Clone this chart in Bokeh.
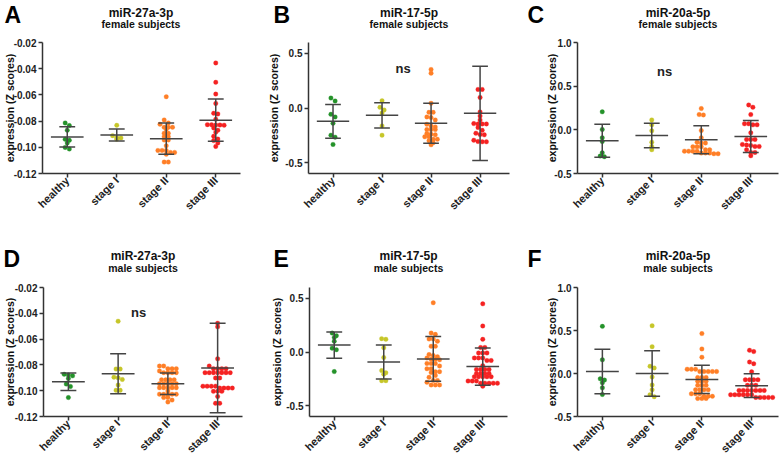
import math
from bokeh.plotting import figure
from bokeh.models import ColumnDataSource, FixedTicker, PrintfTickFormatter, Label, Range1d
from bokeh.layouts import row, column
from bokeh.embed import file_html
from bokeh.resources import INLINE

# ---------------- data ----------------
categories = ["healthy", "stage I", "stage II", "stage III"]
cat_positions = [0.5, 1.5, 2.5, 3.5]
group_colors = ["#24922a", "#c6c629", "#ff7f27", "#f52222"]

# A: miR-27a-3p, female subjects
a_healthy = [-0.0814, -0.0834, -0.0870, -0.0939, -0.0947, -0.0967, -0.1001, -0.1013]
a_stage1 = [-0.0832, -0.0911, -0.0926, -0.0929, -0.0939]
a_stage2 = [-0.0614, -0.0791, -0.0814, -0.0824, -0.0847, -0.0847, -0.0847, -0.0862,
            -0.0893, -0.0893, -0.0919, -0.0919, -0.0944, -0.0944, -0.0988, -0.1024,
            -0.1024, -0.1024, -0.1039, -0.1039, -0.1054, -0.1113, -0.1113]
a_stage3 = [-0.0356, -0.0504, -0.0594, -0.0665, -0.0740, -0.0745, -0.0786, -0.0827,
            -0.0828, -0.0829, -0.0830, -0.0831, -0.0852, -0.0870, -0.0885, -0.0916,
            -0.0937, -0.0949, -0.0967, -0.0993]
a_mean = [-0.0921, -0.0906, -0.0934, -0.0793]
a_sd = [0.0077, 0.0045, 0.0120, 0.0161]
a_yticks = [-0.12, -0.10, -0.08, -0.06, -0.04, -0.02]

# B: miR-17-5p, female subjects
b_healthy = [0.091, 0.064, -0.058, -0.082, -0.140, -0.249, -0.267, -0.334]
b_stage1 = [0.067, 0.006, -0.018, -0.046, -0.164, -0.249]
b_stage2 = [0.353, 0.319, 0.043, -0.040, -0.040, -0.082, -0.088, -0.109, -0.149, -0.164,
            -0.173, -0.198, -0.198, -0.198, -0.234, -0.240, -0.246, -0.264, -0.264,
            -0.286, -0.286, -0.301, -0.319, -0.337]
b_stage3 = [0.170, 0.170, 0.097, -0.036, -0.073, -0.109, -0.143, -0.146, -0.146, -0.146,
            -0.179, -0.204, -0.231, -0.243, -0.246, -0.295, -0.307, -0.310, -0.310]
b_mean = [-0.122, -0.067, -0.140, -0.049]
b_sd = [0.155, 0.116, 0.184, 0.432]
b_yticks = [-0.5, 0.0, 0.5]

# C: miR-20a-5p, female subjects
c_healthy = [0.206, 0.004, -0.091, -0.133, -0.263, -0.301, -0.308]
c_stage1 = [0.114, 0.057, -0.011, -0.141, -0.190, -0.228]
c_stage2 = [0.244, 0.175, 0.171, -0.008, -0.091, -0.141, -0.152, -0.152, -0.194, -0.194,
            -0.194, -0.228, -0.228, -0.244, -0.244, -0.244, -0.244, -0.266, -0.266,
            -0.266, -0.274, -0.274]
c_stage3 = [0.285, 0.259, 0.175, 0.069, 0.069, 0.057, 0.057, -0.034, -0.110, -0.110,
            -0.110, -0.167, -0.175, -0.179, -0.190, -0.190, -0.228, -0.259, -0.259, -0.297]
c_mean = [-0.126, -0.065, -0.114, -0.076]
c_sd = [0.189, 0.141, 0.160, 0.183]
c_yticks = [-0.5, 0.0, 0.5, 1.0]

# D: miR-27a-3p, male subjects
d_healthy = [-0.0873, -0.0878, -0.0885, -0.0906, -0.0949, -0.0967, -0.1053]
d_stage1 = [-0.0461, -0.0832, -0.0832, -0.0895, -0.0900, -0.0913, -0.0956, -0.0997, -0.0997]
d_stage2 = [-0.0809, -0.0809, -0.0829, -0.0829, -0.0829, -0.0847, -0.0860, -0.0860,
            -0.0860, -0.0860, -0.0916, -0.0916, -0.0916, -0.0916, -0.0946, -0.0946,
            -0.0946, -0.0946, -0.0946, -0.0977, -0.0977, -0.0977, -0.0977, -0.0977,
            -0.1002, -0.1027, -0.1027, -0.1027, -0.1027, -0.1027, -0.1053, -0.1053,
            -0.1073, -0.1088]
d_stage3 = [-0.0477, -0.0505, -0.0753, -0.0809, -0.0829, -0.0829, -0.0829, -0.0829,
            -0.0860, -0.0860, -0.0860, -0.0860, -0.0860, -0.0860, -0.0860, -0.0901,
            -0.0901, -0.0965, -0.0965, -0.0965, -0.0965, -0.0980, -0.0980, -0.0980,
            -0.0980, -0.1005, -0.1005, -0.1005, -0.1045, -0.1098, -0.1098]
d_mean = [-0.0931, -0.0868, -0.0946, -0.0824]
d_sd = [0.0068, 0.0155, 0.0084, 0.0347]
d_yticks = [-0.12, -0.10, -0.08, -0.06, -0.04, -0.02]

# E: miR-17-5p, male subjects
e_healthy = [0.176, 0.152, 0.136, 0.100, 0.036, 0.021, -0.182]
e_stage1 = [0.124, 0.118, 0.039, -0.052, -0.173, -0.194, -0.206, -0.267, -0.267]
e_stage2 = [0.458, 0.176, 0.164, 0.121, 0.121, 0.100, 0.053, 0.053, -0.024, -0.033,
            -0.045, -0.055, -0.067, -0.067, -0.073, -0.106, -0.106, -0.106, -0.130,
            -0.156, -0.156, -0.183, -0.183, -0.191, -0.218, -0.236, -0.264, -0.264,
            -0.282, -0.306, -0.306, -0.306]
e_stage3 = [0.448, 0.242, 0.118, 0.042, 0.042, -0.009, -0.009, -0.009, -0.055, -0.055,
            -0.055, -0.079, -0.079, -0.127, -0.162, -0.162, -0.162, -0.162, -0.200,
            -0.200, -0.200, -0.200, -0.230, -0.230, -0.230, -0.230, -0.230, -0.270,
            -0.270, -0.270, -0.290, -0.290, -0.290, -0.290, -0.290, -0.318]
e_mean = [0.064, -0.094, -0.064, -0.136]
e_sd = [0.1215, 0.158, 0.2075, 0.1725]
e_yticks = [-0.5, 0.0, 0.5]

# F: miR-20a-5p, male subjects
f_healthy = [0.548, 0.160, -0.061, -0.076, -0.107, -0.167, -0.244]
f_stage1 = [0.556, 0.312, 0.084, 0.065, -0.042, -0.133, -0.190, -0.247, -0.270]
f_stage2 = [0.464, 0.286, 0.190, 0.050, 0.050, 0.050, 0.023, 0.023, 0.023, 0.023, 0.023,
            -0.046, -0.046, -0.046, -0.090, -0.090, -0.090, -0.137, -0.137, -0.137,
            -0.190, -0.190, -0.190, -0.190, -0.236, -0.236, -0.236, -0.265, -0.265,
            -0.265, -0.290, -0.290, -0.290]
f_stage3 = [0.270, 0.255, 0.133, 0.114, 0.019, -0.072, -0.072, -0.072, -0.072, -0.137,
            -0.137, -0.137, -0.197, -0.197, -0.197, -0.197, -0.197, -0.197, -0.197,
            -0.247, -0.247, -0.247, -0.247, -0.247, -0.247, -0.278, -0.278, -0.278,
            -0.278, -0.278]
f_mean = [0.023, 0.0, -0.069, -0.141]
f_sd = [0.259, 0.2645, 0.1635, 0.139]
f_yticks = [-0.5, 0.0, 0.5, 1.0]

panels = [
    dict(letter="A", title="miR-27a-3p", sub="female subjects",
         groups=[a_healthy, a_stage1, a_stage2, a_stage3], mean=a_mean, sd=a_sd,
         yr=(-0.12, -0.02), yticks=a_yticks, fmt="%.2f", ns=None),
    dict(letter="B", title="miR-17-5p", sub="female subjects",
         groups=[b_healthy, b_stage1, b_stage2, b_stage3], mean=b_mean, sd=b_sd,
         yr=(-0.6, 0.6), yticks=b_yticks, fmt="%.1f", ns=(1.93, 0.366)),
    dict(letter="C", title="miR-20a-5p", sub="female subjects",
         groups=[c_healthy, c_stage1, c_stage2, c_stage3], mean=c_mean, sd=c_sd,
         yr=(-0.5, 1.0), yticks=c_yticks, fmt="%.1f", ns=(1.76, 0.665)),
    dict(letter="D", title="miR-27a-3p", sub="male subjects",
         groups=[d_healthy, d_stage1, d_stage2, d_stage3], mean=d_mean, sd=d_sd,
         yr=(-0.12, -0.02), yticks=d_yticks, fmt="%.2f", ns=(1.91, -0.0397)),
    dict(letter="E", title="miR-17-5p", sub="male subjects",
         groups=[e_healthy, e_stage1, e_stage2, e_stage3], mean=e_mean, sd=e_sd,
         yr=(-0.6, 0.6), yticks=e_yticks, fmt="%.1f", ns=None),
    dict(letter="F", title="miR-20a-5p", sub="male subjects",
         groups=[f_healthy, f_stage1, f_stage2, f_stage3], mean=f_mean, sd=f_sd,
         yr=(-0.5, 1.0), yticks=f_yticks, fmt="%.1f", ns=None),
]

# ---------------- layout ----------------
col_w = [262, 262, 257]
head_h = [34, 49]
main_h = [194, 184]
mb_top = [8, 10]
mb_bottom = [55, 43]
mb_left = [[41, 46, 53], [43, 47, 53]]
mb_right = [[22, 15, 3], [20, 17, 3]]
x_ends = [[4.0, 4.1, 4.06], [4.0, 4.0, 4.04]]
ylabel_standoff = [[-5, 2, -7], [-4, 0, -7]]
# header text placement (top of text box, px inside the header strip)
letter_x = [[4, 11, 3], [3, 11, 3]]
letter_top = [1.0, 17.0]
title_top = [5.2, 20.6]
sub_top = [17.0, 33.0]

FONT = "Liberation Sans"
BAR = "#444444"


def swarm_offsets(vals, py, px, step=4.2, bin_px=3.2):
    idx = sorted(range(len(vals)), key=lambda i: -vals[i])
    rows = []
    for i in idx:
        if rows and abs(vals[rows[-1][0]] - vals[i]) * py < bin_px:
            rows[-1].append(i)
        else:
            rows.append([i])
    off = [0.0] * len(vals)
    for r in rows:
        n = len(r)
        for k, i in enumerate(r):
            off[i] = (k - (n - 1) / 2.0) * step / px
    return off


def text_label(x, y, text, size, align="center", color="#111111"):
    return Label(x=x, y=y, text=text, text_align=align, text_baseline="top",
                 text_font=FONT, text_font_style="bold", text_font_size=size,
                 text_color=color)


heads, mains = [], []
for pi_, pan in enumerate(panels):
    r = pi_ // 3
    c = pi_ % 3
    W = col_w[c]
    ml, mr, mt, mb = mb_left[r][c], mb_right[r][c], mb_top[r], mb_bottom[r]
    xe = x_ends[r][c]
    H = main_h[r]
    fw, fh = W - ml - mr, H - mt - mb
    y0, y1 = pan["yr"]
    px = fw / xe
    py = fh / (y1 - y0)

    # ---- header strip: letter, title, subtitle ----
    hh = head_h[r]
    h = figure(width=W, height=hh, x_range=Range1d(0, W), y_range=Range1d(hh, 0),
               output_backend="svg", toolbar_location=None, min_border=0,
               x_axis_location=None, y_axis_location=None, title_location=None,
               outline_line_color=None, background_fill_color="white",
               border_fill_color="white")
    h.grid.visible = False
    cx = (ml + W - mr) / 2.0
    h.add_layout(text_label(cx, title_top[r], pan["title"], "12px"))
    h.add_layout(text_label(cx, sub_top[r], pan["sub"], "10.5px"))
    h.add_layout(text_label(letter_x[r][c], letter_top[r], pan["letter"], "23px",
                            align="left", color="#000000"))
    heads.append(h)

    # ---- main plot ----
    p = figure(width=W, height=H, x_range=Range1d(0, xe), y_range=Range1d(y0, y1),
               output_backend="svg", toolbar_location=None, title_location=None,
               min_border_left=ml, min_border_right=mr,
               min_border_top=mt, min_border_bottom=mb,
               outline_line_color=None, background_fill_color="white",
               border_fill_color="white")
    p.grid.visible = False

    for ax in (p.xaxis[0], p.yaxis[0]):
        ax.axis_line_color = "#333333"
        ax.axis_line_width = 1.5
        ax.major_tick_line_color = "#333333"
        ax.major_tick_line_width = 1.5
        ax.major_tick_out = 4
        ax.major_tick_in = 0
        ax.minor_tick_line_color = None
        ax.major_label_text_font = FONT
        ax.major_label_text_font_style = "bold"
        ax.major_label_text_color = "#222222"

    p.xaxis.major_label_standoff = 1
    p.yaxis.major_label_standoff = 2
    p.xaxis.major_label_text_font_size = "11px"
    p.yaxis.major_label_text_font_size = "10px"
    p.xaxis.ticker = FixedTicker(ticks=cat_positions)
    p.xaxis.major_label_overrides = {cp: nm for cp, nm in zip(cat_positions, categories)}
    p.xaxis.major_label_orientation = math.pi / 4
    p.yaxis.ticker = FixedTicker(ticks=pan["yticks"])
    p.yaxis.formatter = PrintfTickFormatter(format=pan["fmt"])
    p.yaxis.axis_label = "expression (Z scores)"
    p.yaxis.axis_label_text_font = FONT
    p.yaxis.axis_label_text_font_style = "bold"
    p.yaxis.axis_label_text_font_size = "10.5px"
    p.yaxis.axis_label_text_color = "#111111"
    p.yaxis.axis_label_standoff = ylabel_standoff[r][c]

    # points
    for g, vals in enumerate(pan["groups"]):
        offs = swarm_offsets(vals, py, px)
        src = ColumnDataSource(dict(x=[cat_positions[g] + o for o in offs], y=vals))
        p.scatter("x", "y", source=src, marker="circle", size=4.5,
                  fill_color=group_colors[g], line_color=group_colors[g], line_width=0.3)

    # mean +/- SD bars
    xs0, xs1, ys0, ys1 = [], [], [], []
    for g in range(4):
        m, s, xc = pan["mean"][g], pan["sd"][g], cat_positions[g]
        xs0 += [xc - 0.33, xc - 0.16, xc - 0.16, xc]
        xs1 += [xc + 0.33, xc + 0.16, xc + 0.16, xc]
        ys0 += [m, m + s, m - s, m - s]
        ys1 += [m, m + s, m - s, m + s]
    bars = ColumnDataSource(dict(x0=xs0, x1=xs1, y0=ys0, y1=ys1))
    p.segment("x0", "y0", "x1", "y1", source=bars, line_color=BAR, line_width=1.5)

    if pan["ns"] is not None:
        p.add_layout(Label(x=pan["ns"][0], y=pan["ns"][1], text="ns",
                           text_align="center", text_baseline="middle",
                           text_font=FONT, text_font_style="bold", text_font_size="13px",
                           text_color="#222222"))
    mains.append(p)

layout = column(row(*heads[0:3]), row(*mains[0:3]), row(*heads[3:6]), row(*mains[3:6]))
open("out.html", "w").write(file_html(layout, INLINE))
